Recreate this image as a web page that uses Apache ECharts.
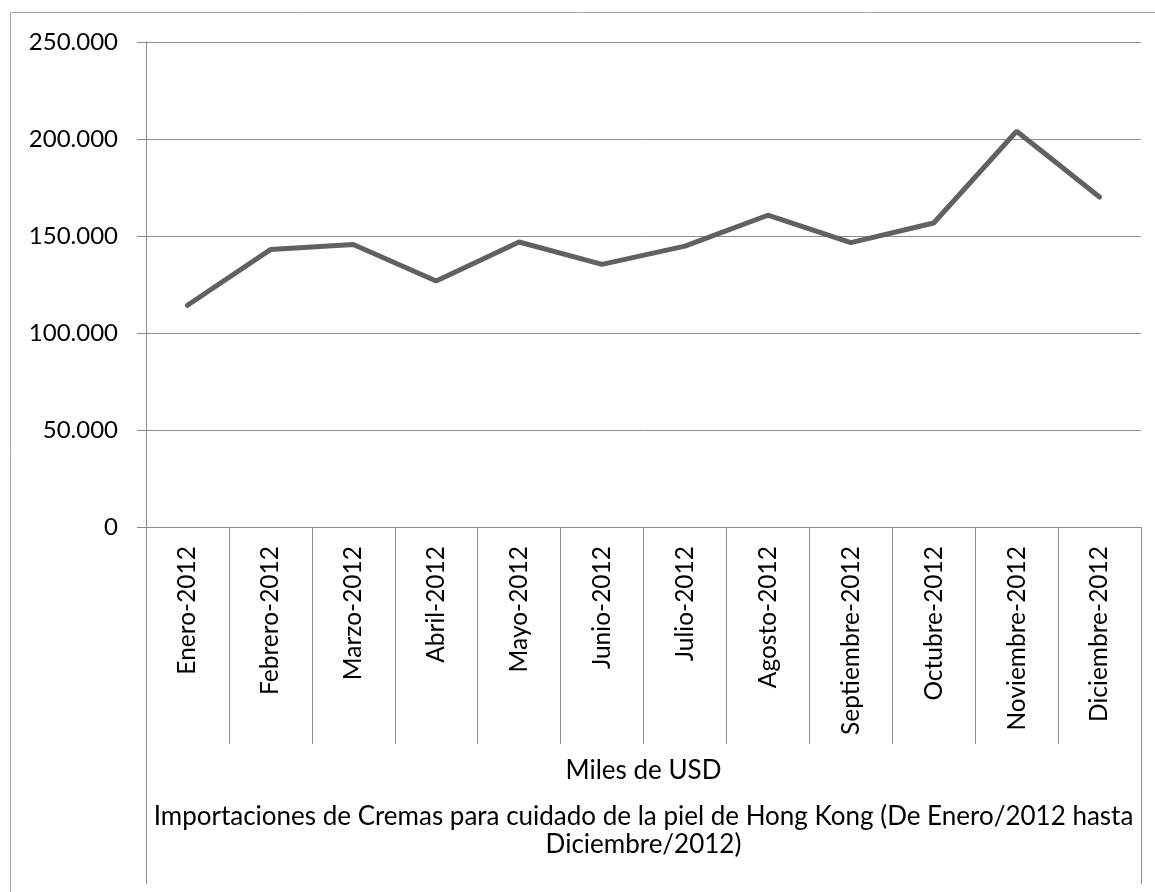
<!DOCTYPE html>
<html>
<head>
<meta charset="utf-8">
<script src="https://cdn.jsdelivr.net/npm/echarts@6/dist/echarts.min.js"></script>
<style>
  html, body { margin: 0; padding: 0; background: #fff; }
  #container { width: 1155px; height: 892px; }
</style>
</head>
<body>
<div id="container"></div>
<script>
var months = ['Enero-2012', 'Febrero-2012', 'Marzo-2012', 'Abril-2012', 'Mayo-2012', 'Junio-2012',
    'Julio-2012', 'Agosto-2012', 'Septiembre-2012', 'Octubre-2012', 'Noviembre-2012', 'Diciembre-2012'];
var values = [114300, 143000, 145600, 126800, 146900, 135400, 144800, 160700, 146600, 156700, 204000, 170100];
var unitLabel = ['Miles de USD'];
var titleLabel = ['Importaciones de Cremas para cuidado de la piel de Hong Kong (De Enero/2012 hasta\nDiciembre/2012)'];

var font = 'Lato';
var gridColor = '#8e8e8e';

var dom = document.getElementById("container");
var myChart = echarts.init(dom);

function fmt(v) {
    // separador de miles con punto
    return String(v).replace(/\B(?=(\d{3})+(?!\d))/g, '.');
}

var option = {
    animation: false,
    backgroundColor: '#fff',
    textStyle: { fontFamily: font },
    graphic: [
        {
            type: 'rect',
            shape: { x: 10.5, y: 12.5, width: 1200, height: 1000 },
            style: { fill: 'none', stroke: '#a6a6a6', lineWidth: 1 },
            silent: true
        }
    ],
    grid: {
        left: 146,
        right: 14,
        top: 42,
        bottom: 365
    },
    xAxis: [
        {
            type: 'category',
            data: months,
            boundaryGap: true,
            axisLine: { lineStyle: { color: gridColor, width: 1 } },
            axisTick: { show: true, length: 217, interval: 0, lineStyle: { color: gridColor } },
            axisLabel: {
                rotate: 90,
                interval: 0,
                margin: 19,
                fontSize: 24.5,
                color: '#000',
                fontFamily: font
            }
        },
        {
            type: 'category',
            data: unitLabel,
            position: 'bottom',
            offset: 217,
            axisLine: { show: false },
            axisTick: { show: true, length: 140, lineStyle: { color: gridColor } },
            axisLabel: { margin: 14, fontSize: 26, color: '#000', fontFamily: font }
        },
        {
            type: 'category',
            data: titleLabel,
            position: 'bottom',
            offset: 271,
            axisLine: { show: false },
            axisTick: { show: false },
            axisLabel: {
                margin: 5,
                fontSize: 26,
                lineHeight: 28,
                color: '#000',
                fontFamily: font,
                align: 'center'
            }
        }
    ],
    yAxis: {
        type: 'value',
        min: 0,
        max: 250000,
        interval: 50000,
        axisLine: { show: true, lineStyle: { color: gridColor } },
        axisTick: { show: true, length: 9, lineStyle: { color: gridColor } },
        splitLine: { show: true, lineStyle: { color: gridColor, width: 1 } },
        axisLabel: {
            margin: 28,
            fontSize: 24,
            color: '#000',
            fontFamily: font,
            formatter: function (v) { return fmt(v); }
        }
    },
    series: [
        {
            type: 'line',
            data: values,
            showSymbol: false,
            symbol: 'none',
            lineStyle: { color: '#616161', width: 5, cap: 'round' },
            emphasis: { disabled: true }
        }
    ]
};

myChart.setOption(option);
</script>
</body>
</html>
